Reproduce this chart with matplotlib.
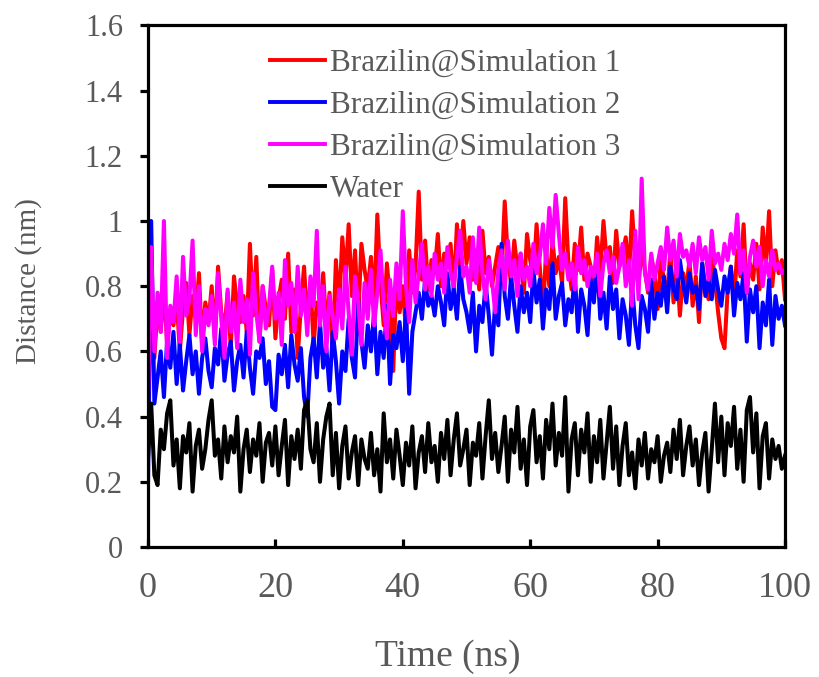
import numpy as np
import matplotlib
import matplotlib.pyplot as plt

matplotlib.use('Agg')

# distance vs time, every 0.5 ns
time_ns = np.arange(201) * 0.5

sim1 = [0.62, 0.70, 0.58, 0.74, 0.66, 0.79, 0.63, 0.71, 0.68, 0.76,
        0.60, 0.73, 0.81, 0.65, 0.77, 0.70, 0.84, 0.62, 0.75, 0.69,
        0.80, 0.64, 0.86, 0.72, 0.67, 0.78, 0.61, 0.83, 0.74, 0.69,
        0.77, 0.66, 0.93, 0.71, 0.89, 0.63, 0.80, 0.73, 0.68, 0.85,
        0.64, 0.76, 0.82, 0.70, 0.90, 0.66, 0.79, 0.58, 0.74, 0.86,
        0.69, 0.81, 0.62, 0.75, 0.71, 0.84, 0.67, 0.78, 0.60, 0.88,
        0.73, 0.95, 0.82, 0.99, 0.77, 0.91, 0.70, 0.93, 0.85, 0.79,
        0.89, 0.74, 1.02, 0.81, 0.68, 0.87, 0.76, 0.54, 0.83, 0.72,
        0.80, 0.66, 0.91, 0.78, 0.86, 1.09, 0.82, 0.94, 0.79, 0.88,
        0.84, 0.96, 0.80, 0.90, 0.86, 0.93, 0.78, 0.99, 0.85, 1.00,
        0.87, 0.95, 0.82, 0.91, 0.79, 0.97, 0.84, 0.89, 0.80, 0.86,
        0.92, 0.83, 1.06, 0.88, 0.81, 0.94, 0.85, 0.90, 0.78, 0.96,
        0.88, 0.82, 0.99, 0.86, 0.72, 0.91, 0.80, 0.94, 0.84, 0.89,
        0.81, 1.07, 0.87, 0.79, 0.93, 0.85, 0.98, 0.82, 0.90, 0.86,
        0.79, 0.95, 0.84, 1.00, 0.88, 0.92, 0.81, 0.97, 0.86, 0.90,
        0.95, 0.83, 1.03, 0.87, 0.80, 0.92, 0.85, 0.78, 0.89, 0.84,
        0.73, 0.88, 0.82, 0.77, 0.91, 0.75, 0.86, 0.71, 0.84, 0.79,
        0.88, 0.74, 0.83, 0.69, 0.87, 0.80, 0.76, 0.90, 0.82, 0.72,
        0.64, 0.61, 0.79, 0.86, 0.75, 0.91, 0.83, 0.99, 0.78, 0.87,
        0.82, 0.93, 0.79, 0.98, 0.86, 1.03, 0.80, 0.91, 0.84, 0.88,
        0.76]

sim2 = [0.19, 1.00, 0.44, 0.52, 0.60, 0.46, 0.63, 0.55, 0.66, 0.50,
        0.62, 0.48, 0.57, 0.65, 0.53, 0.60, 0.47, 0.58, 0.64, 0.54,
        0.49, 0.61, 0.56, 0.67, 0.51, 0.59, 0.63, 0.48, 0.57, 0.62,
        0.52, 0.66, 0.55, 0.47, 0.60, 0.58, 0.64, 0.50, 0.57, 0.43,
        0.42, 0.59, 0.53, 0.62, 0.49, 0.65, 0.56, 0.51, 0.61, 0.46,
        0.40, 0.58, 0.64, 0.52, 0.69, 0.55, 0.61, 0.48, 0.66, 0.57,
        0.44, 0.60, 0.54, 0.70, 0.58, 0.52, 0.76, 0.63, 0.55, 0.68,
        0.60, 0.72, 0.53, 0.66, 0.58, 0.74, 0.50, 0.65, 0.61, 0.69,
        0.57, 0.73, 0.47, 0.66, 0.72, 0.78, 0.70, 0.82, 0.74, 0.77,
        0.71, 0.80, 0.75, 0.68, 0.84, 0.73, 0.79, 0.70, 0.86, 0.76,
        0.72, 0.66, 0.78, 0.60, 0.74, 0.69, 0.81, 0.71, 0.59, 0.75,
        0.68, 0.93, 0.77, 0.70, 0.83, 0.74, 0.66, 0.80, 0.72, 0.78,
        0.69, 0.85, 0.75, 0.82, 0.67, 0.79, 0.73, 0.87, 0.70, 0.77,
        0.81, 0.68, 0.76, 0.72, 0.84, 0.66, 0.79, 0.74, 0.65, 0.82,
        0.75, 0.88, 0.70, 0.78, 0.67, 0.83, 0.73, 0.79, 0.64, 0.76,
        0.71, 0.62, 0.80, 0.68, 0.61, 0.77, 0.73, 0.66, 0.82, 0.70,
        0.78, 0.74, 0.83, 0.72, 0.86, 0.79, 0.76, 0.88, 0.81, 0.75,
        0.84, 0.78, 0.80, 0.73, 0.87, 0.77, 0.82, 0.76, 0.85, 0.79,
        0.74, 0.83, 0.78, 0.86, 0.71, 0.81, 0.76, 0.84, 0.63, 0.79,
        0.72, 0.80, 0.61, 0.75, 0.68, 0.82, 0.62, 0.77, 0.70, 0.74,
        0.68]

sim3 = [0.45, 0.92, 0.60, 0.78, 0.66, 1.00, 0.58, 0.74, 0.69, 0.83,
        0.63, 0.89, 0.71, 0.76, 0.94, 0.65, 0.80, 0.60, 0.73, 0.68,
        0.77, 0.62, 0.84, 0.70, 0.58, 0.79, 0.66, 0.75, 0.61, 0.82,
        0.69, 0.76, 0.59, 0.84, 0.72, 0.63, 0.80, 0.67, 0.74, 0.86,
        0.70, 0.78, 0.62, 0.88, 0.74, 0.81, 0.66, 0.86, 0.71, 0.79,
        0.65, 0.83, 0.74, 0.97, 0.68, 0.80, 0.60, 0.77, 0.71, 0.64,
        0.79, 0.67, 0.86, 0.72, 0.59, 0.83, 0.75, 0.62, 0.81, 0.70,
        0.85, 0.68, 0.78, 0.91, 0.74, 0.64, 0.82, 0.71, 0.87, 0.76,
        1.03, 0.80, 0.69, 0.88, 0.75, 0.84, 0.93, 0.79, 0.86, 0.77,
        0.90, 0.82, 0.87, 0.78, 0.92, 0.84, 0.80, 0.89, 0.97, 0.83,
        0.86, 0.78, 0.95, 0.81, 0.98, 0.84, 0.76, 0.88, 0.82, 0.72,
        0.85, 0.91, 0.79, 0.94, 0.83, 0.88, 0.77, 0.90, 0.82, 0.86,
        0.80, 0.93, 0.84, 0.89, 0.99, 0.87, 1.04, 0.92, 1.08, 0.96,
        0.85, 0.90, 0.82, 0.87, 0.79, 0.92, 0.84, 0.88, 0.80, 0.86,
        0.83, 0.90, 0.77, 0.87, 0.91, 0.84, 0.89, 0.81, 0.86, 0.93,
        0.80, 0.88, 0.74, 0.97, 0.76, 1.13, 0.84, 0.79, 0.90, 0.82,
        0.87, 0.92, 0.85, 0.98, 0.88, 0.94, 0.83, 0.96, 0.89, 0.91,
        0.86, 0.93, 0.84, 0.95, 0.88, 0.92, 0.82, 0.97, 0.87, 0.90,
        0.85, 0.93, 0.88, 0.96, 0.90, 1.02, 0.84, 0.91, 0.78, 0.89,
        0.94, 0.86, 0.92, 0.80, 0.88, 0.83, 0.91, 0.85, 0.87, 0.84,
        0.85]

water = [0.27, 0.44, 0.22, 0.19, 0.36, 0.30, 0.41, 0.45, 0.25, 0.33,
         0.18, 0.34, 0.29, 0.38, 0.17, 0.31, 0.36, 0.24, 0.30, 0.39,
         0.45, 0.28, 0.33, 0.21, 0.37, 0.26, 0.34, 0.29, 0.40, 0.17,
         0.30, 0.36, 0.23, 0.33, 0.28, 0.38, 0.20, 0.32, 0.35, 0.25,
         0.37, 0.22, 0.31, 0.39, 0.19, 0.34, 0.27, 0.36, 0.24, 0.42,
         0.45, 0.30, 0.26, 0.38, 0.20, 0.33, 0.40, 0.44, 0.22, 0.35,
         0.18, 0.31, 0.37, 0.21, 0.29, 0.34, 0.19, 0.33, 0.27, 0.24,
         0.35, 0.22, 0.30, 0.17, 0.41, 0.26, 0.33, 0.21, 0.36, 0.28,
         0.19, 0.32, 0.25, 0.37, 0.18, 0.29, 0.34, 0.23, 0.38, 0.26,
         0.31, 0.20, 0.35, 0.27, 0.39, 0.22, 0.33, 0.41, 0.25, 0.30,
         0.36, 0.19, 0.32, 0.28, 0.38, 0.21, 0.34, 0.45, 0.27, 0.35,
         0.23, 0.31, 0.40, 0.20, 0.36, 0.29, 0.43, 0.24, 0.33, 0.19,
         0.37, 0.42, 0.26, 0.34, 0.21, 0.39, 0.30, 0.44, 0.25, 0.35,
         0.28, 0.46, 0.17, 0.33, 0.38, 0.22, 0.36, 0.29, 0.41, 0.20,
         0.34, 0.26, 0.39, 0.21, 0.32, 0.43, 0.24, 0.37, 0.19, 0.31,
         0.38, 0.22, 0.29, 0.18, 0.33, 0.25, 0.35, 0.21, 0.30, 0.26,
         0.34, 0.20, 0.28, 0.32, 0.23, 0.36, 0.27, 0.39, 0.22, 0.31,
         0.37, 0.25, 0.33, 0.19, 0.29, 0.35, 0.17, 0.30, 0.44, 0.26,
         0.40, 0.22, 0.38, 0.31, 0.43, 0.24, 0.36, 0.20, 0.42, 0.46,
         0.29, 0.41, 0.18, 0.34, 0.38, 0.21, 0.33, 0.27, 0.31, 0.24,
         0.28]

labels = ['Brazilin@Simulation 1', 'Brazilin@Simulation 2',
          'Brazilin@Simulation 3', 'Water']
colors = ['#ff0000', '#0000ff', '#ff00ff', '#000000']

plt.rcParams['font.family'] = ['Liberation Serif', 'DejaVu Serif']
grey = '#595959'

fig = plt.figure(figsize=(8.19, 6.77), dpi=100)
ax = fig.add_axes([0.1807, 0.192, 0.7778, 0.7705])

for series, lab, col in zip([sim1, sim2, sim3, water], labels, colors):
    ax.plot(time_ns, series, color=col, lw=2.9, label=lab)

ax.set_xlim(0, 100)
ax.set_ylim(0, 1.6)
ax.set_xticks([0, 20, 40, 60, 80, 100])
ax.set_yticks([0, 0.2, 0.4, 0.6, 0.8, 1.0, 1.2, 1.4, 1.6])
ax.set_yticklabels(['0', '0.2', '0.4', '0.6', '0.8', '1', '1.2', '1.4', '1.6'])

for sp in ax.spines.values():
    sp.set_linewidth(2.3)
ax.tick_params(axis='x', direction='in', length=6, width=2.3,
               labelsize=26, labelcolor=grey, pad=18)
ax.tick_params(axis='y', direction='out', length=6, width=2.3,
               labelsize=22, labelcolor=grey, pad=12)

ax.set_xlabel('Time (ns)', fontsize=27, color=grey, va='center')
ax.xaxis.set_label_coords(0.471, -0.211)
ax.set_ylabel('Distance (nm)', fontsize=21, color=grey, va='center')
ax.yaxis.set_label_coords(-0.188, 0.509)

leg = ax.legend(loc='upper left', bbox_to_anchor=(0.157, 0.997), frameon=False,
                fontsize=22.5, handlelength=1.75, handletextpad=0.18,
                labelspacing=0.42, borderaxespad=0.3)
for t in leg.get_texts():
    t.set_color(grey)
for h in leg.get_lines():
    h.set_linewidth(2.8)

fig.savefig('out.png', dpi=100)
